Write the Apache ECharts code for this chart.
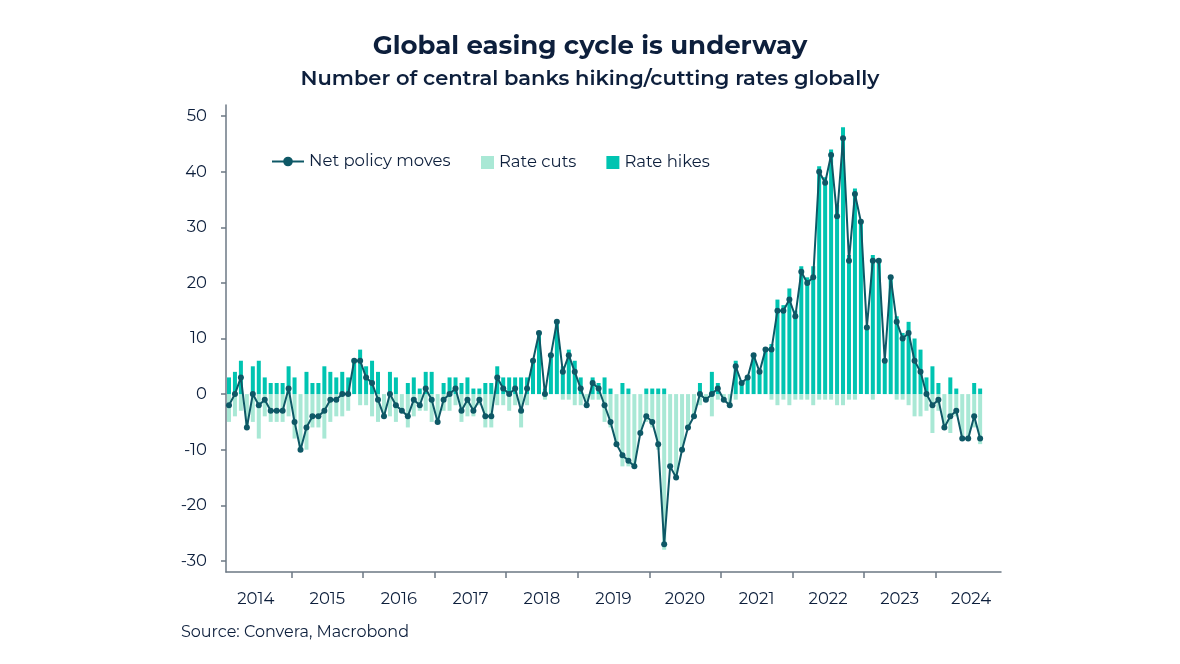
<!DOCTYPE html>
<html>
<head>
<meta charset="utf-8">
<script src="https://cdn.jsdelivr.net/npm/echarts@6/dist/echarts.min.js"></script>
<style>
html,body{margin:0;padding:0;background:#fff;}
#chart{width:1180px;height:664px;}
</style>
</head>
<body>
<div id="chart"></div>
<script>
// Monthly data, first month = Feb 2014
const firstYear = 2014;
const firstMonth = 2;
const yearLabels = ['2014','2015','2016','2017','2018','2019','2020','2021','2022','2023','2024'];
const yTickValues = [-30,-20,-10,0,10,20,30,40,50];

const netMoves = [
  -2, 0, 3, -6, 0, -2, -1, -3, -3, -3, 1,
  -5, -10, -6, -4, -4, -3, -1, -1, 0, 0, 6, 6,
  3, 2, -1, -4, 0, -2, -3, -4, -1, -2, 1, -1,
  -5, -1, 0, 1, -3, -1, -3, -1, -4, -4, 3, 1,
  0, 1, -3, 1, 6, 11, 0, 7, 13, 4, 7, 4,
  1, -2, 2, 1, -2, -5, -9, -11, -12, -13, -7, -4,
  -5, -9, -27, -13, -15, -10, -6, -4, 0, -1, 0, 1,
  -1, -2, 5, 2, 3, 7, 4, 8, 8, 15, 15, 17,
  14, 22, 20, 21, 40, 38, 43, 32, 46, 24, 36, 31,
  12, 24, 24, 6, 21, 13, 10, 11, 6, 4, 0, -2,
  -1, -6, -4, -3, -8, -8, -4, -8
];
const rateHikes = [
  3, 4, 6, 0, 5, 6, 3, 2, 2, 2, 5,
  3, 0, 4, 2, 2, 5, 4, 3, 4, 3, 6, 8,
  5, 6, 4, 0, 4, 3, 0, 2, 3, 1, 4, 4,
  0, 2, 3, 3, 2, 3, 1, 1, 2, 2, 5, 3,
  3, 3, 3, 3, 6, 11, 1, 7, 13, 5, 8, 6,
  3, 0, 3, 2, 3, 1, 0, 2, 1, 0, 0, 1,
  1, 1, 1, 0, 0, 0, 0, 0, 2, 0, 4, 2,
  0, 0, 6, 2, 3, 7, 4, 8, 9, 17, 16, 19,
  15, 23, 21, 23, 41, 39, 44, 34, 48, 25, 37, 31,
  12, 25, 24, 6, 21, 14, 11, 13, 10, 8, 3, 5,
  2, 0, 3, 1, 0, 0, 2, 1
];
const rateCuts = [
  -5, -4, -3, -6, -5, -8, -4, -5, -5, -5, -4,
  -8, -10, -10, -6, -6, -8, -5, -4, -4, -3, 0, -2,
  -2, -4, -5, -4, -4, -5, -3, -6, -4, -3, -3, -5,
  -5, -3, -3, -2, -5, -4, -4, -2, -6, -6, -2, -2,
  -3, -2, -6, -2, 0, 0, -1, 0, 0, -1, -1, -2,
  -2, -2, -1, -1, -5, -6, -9, -13, -13, -13, -7, -5,
  -6, -10, -28, -13, -15, -10, -6, -4, -2, -1, -4, -1,
  -1, -2, -1, 0, 0, 0, 0, 0, -1, -2, -1, -2,
  -1, -1, -1, -2, -1, -1, -1, -2, -2, -1, -1, 0,
  0, -1, 0, 0, 0, -1, -1, -2, -4, -4, -3, -7,
  -3, -6, -7, -4, -8, -8, -6, -9
];

// x position: month index from Feb 2014, bar centred in its month
const toPts = arr => arr.map((v, i) => [i + 0.5, v]);
const firstJan = 13 - firstMonth;               // offset of Jan 2015 = 11
const tickVals = yearLabels.slice(1).map((y, i) => firstJan + 12 * i);
const labelVals = yearLabels.map((y, i) => firstJan - 6 + 12 * i);
const xMax = tickVals[tickVals.length - 1] + 11; // axis runs through Nov 2024

const txt = '#0d1f3c';
const axisCol = '#6c7884';
const font = 'Montserrat, "Open Sans", "Noto Sans", sans-serif';

const chart = echarts.init(document.getElementById('chart'), null, {renderer: 'canvas'});
chart.setOption({
  backgroundColor: '#ffffff',
  animation: false,
  textStyle: {fontFamily: font, color: txt},
  title: {
    text: 'Global easing cycle is underway',
    subtext: 'Number of central banks hiking/cutting rates globally',
    left: 'center', top: 28, itemGap: 9,
    textStyle: {fontFamily: font, fontSize: 26, fontWeight: 'bold', color: txt},
    subtextStyle: {fontFamily: font, fontSize: 21, fontWeight: 600, color: txt}
  },
  legend: [{
    data: ['Net policy moves'],
    left: 271, top: 153, padding: 0, itemWidth: 32, itemHeight: 12,
    textStyle: {fontFamily: font, fontSize: 16.5, color: txt}
  }, {
    data: ['Rate cuts', 'Rate hikes'],
    left: 481, top: 154, padding: 0, itemWidth: 13, itemHeight: 13, itemGap: 30, icon: 'rect',
    textStyle: {fontFamily: font, fontSize: 16.5, color: txt}
  }],
  grid: {left: 226, right: 179, top: 105, bottom: 92, containLabel: false},
  xAxis: {
    type: 'value', min: 0, max: xMax,
    splitLine: {show: false},
    axisLine: {show: true, onZero: false, lineStyle: {color: axisCol, width: 1.5}},
    axisTick: {show: true, customValues: tickVals, length: 6, lineStyle: {color: axisCol, width: 1.5}},
    axisLabel: {
      customValues: labelVals, margin: 19, fontSize: 16.5, color: txt, fontFamily: font,
      formatter: v => yearLabels[Math.round((v - labelVals[0]) / 12)]
    }
  },
  yAxis: {
    type: 'value', min: -32, max: 52,
    splitLine: {show: false},
    axisLine: {show: true, lineStyle: {color: axisCol, width: 1.5}},
    axisTick: {show: true, customValues: yTickValues, length: 5, lineStyle: {color: axisCol, width: 1.5}},
    axisLabel: {customValues: yTickValues, margin: 19, fontSize: 16.5, color: txt, fontFamily: font}
  },
  graphic: [{
    type: 'text', left: 181, top: 624,
    style: {text: 'Source: Convera, Macrobond', fontSize: 16, fill: txt, fontFamily: font}
  }],
  series: [{
    name: 'Rate cuts', type: 'bar', data: toPts(rateCuts), barWidth: 4, barGap: '-100%',
    itemStyle: {color: '#a9e8d5'}, z: 2
  }, {
    name: 'Rate hikes', type: 'bar', data: toPts(rateHikes), barWidth: 4, barGap: '-100%',
    itemStyle: {color: '#00c4b1'}, z: 2
  }, {
    name: 'Net policy moves', type: 'line', data: toPts(netMoves),
    symbol: 'circle', symbolSize: 6, showSymbol: true,
    lineStyle: {color: '#0e5866', width: 2}, itemStyle: {color: '#0e5866'}, z: 5
  }]
});
</script>
</body>
</html>
